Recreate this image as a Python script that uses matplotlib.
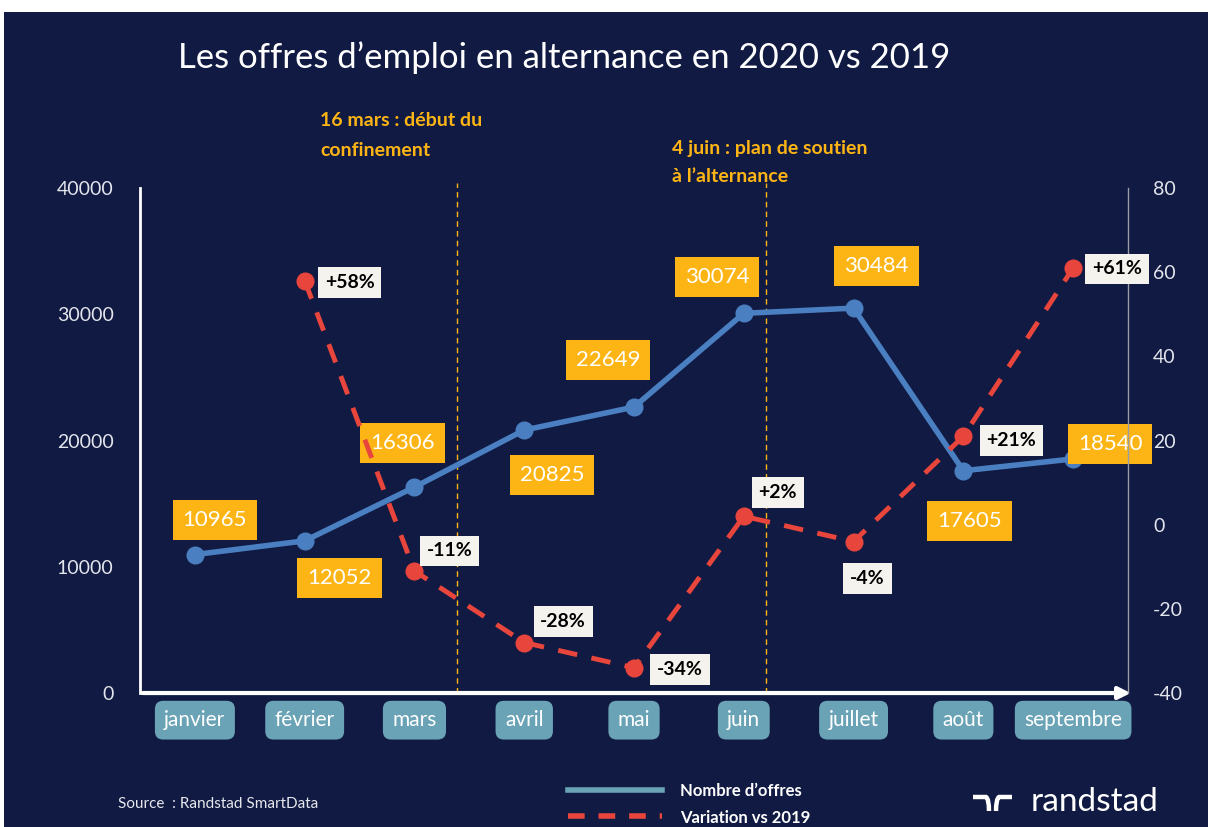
import numpy as np
import matplotlib.pyplot as plt
from matplotlib.patches import FancyArrowPatch, PathPatch
from matplotlib.path import Path

# data
mois = ['janvier', 'février', 'mars', 'avril', 'mai', 'juin', 'juillet', 'août', 'septembre']
offres = [10965, 12052, 16306, 20825, 22649, 30074, 30484, 17605, 18540]
variation = [None, 58, -11, -28, -34, 2, -4, 21, 61]
var_labels = ['', '+58%', '-11%', '-28%', '-34%', '+2%', '-4%', '+21%', '+61%']
events_x = [2.39, 5.2]
events_txt = ['16 mars : début du\nconfinement', '4 juin : plan de soutien\nà l\u2019alternance']

# label offsets in pixels
off_offres = [(20, 35), (35, -37), (-12, 44), (28, -45), (-26, 47), (-27, 36), (23, 42), (6, -50), (37, 15)]
off_var = [None, (45, -2), (35, 20), (39, 21), (46, -2), (34, 24), (14, -37), (48, -4), (44, -1)]

BG = '#111a42'
ORANGE = '#fdb515'
BLUE = '#4a7fc1'
RED = '#e8453c'
TEAL = '#6aa3b6'

plt.rcParams['font.family'] = ['Lato', 'DejaVu Sans']
plt.rcParams['axes.unicode_minus'] = False

fig = plt.figure(figsize=(12.08, 8.27), dpi=100, facecolor='white')
fig.patches.append(plt.Rectangle((0.003, 0), 0.997, 0.985, transform=fig.transFigure,
                                 facecolor=BG, edgecolor='none', zorder=-10))

ax = fig.add_axes([0.1159, 0.162, 0.8179, 0.6107])
ax.set_facecolor('none')
ax2 = ax.twinx()

x = np.arange(len(mois))
ax.set_xlim(-0.5, 8.5)
ax.set_ylim(0, 40000)
ax.set_yticks([0, 10000, 20000, 30000, 40000])
ax2.set_ylim(-40, 80)
ax2.set_yticks([-40, -20, 0, 20, 40, 60, 80])

for a in (ax, ax2):
    for s in a.spines.values():
        s.set_visible(False)
    a.tick_params(length=0, labelsize=14, colors='#e3e5ec')
ax.tick_params(axis='y', pad=19)
ax.set_xticks([])
ax.spines['left'].set_visible(True)
ax.spines['left'].set_color('white')
ax.spines['left'].set_linewidth(2)
ax2.spines['right'].set_visible(True)
ax2.spines['right'].set_color('#9a9ca8')
ax2.spines['right'].set_linewidth(1)
ax2.tick_params(axis='y', pad=18)

# x axis with arrow
arr = FancyArrowPatch((-0.5, 0), (8.55, 0), transform=ax.transData, arrowstyle='-|>',
                      mutation_scale=18, color='white', lw=3, clip_on=False, zorder=5)
ax.add_patch(arr)

# event lines
for ex in events_x:
    ax.axvline(ex, ymin=0, ymax=1.01, color=ORANGE, lw=1, ls=(0, (4, 3)), clip_on=False)
ax.text(events_x[0] - 1.25, 46000, events_txt[0], color=ORANGE, fontsize=14,
        fontweight='bold', va='top', ha='left', linespacing=1.9)
ax.text(events_x[1] - 0.85, 43800, events_txt[1], color=ORANGE, fontsize=14,
        fontweight='bold', va='top', ha='left', linespacing=1.8)

# series
ax.plot(x, offres, color=BLUE, lw=4, marker='o', ms=12, zorder=4)
vx = [i for i, v in enumerate(variation) if v is not None]
vy = [v for v in variation if v is not None]
ax2.plot(vx, vy, color=RED, lw=3.5, ls=(0, (4, 3)), marker='o', ms=12, zorder=4)

for i, v in enumerate(offres):
    ax.annotate(str(v), (i, v), xytext=off_offres[i], textcoords='offset pixels',
                ha='center', va='center', color='white', fontsize=16,
                bbox=dict(boxstyle='square,pad=0.45', fc=ORANGE, ec='none'), zorder=6)
for i in vx:
    ax2.annotate(var_labels[i], (i, variation[i]), xytext=off_var[i], textcoords='offset pixels',
                 ha='center', va='center', color='black', fontsize=14, fontweight='bold',
                 bbox=dict(boxstyle='square,pad=0.35', fc='#f5f3ee', ec='none'), zorder=6)

# month boxes
for i, m in enumerate(mois):
    ax.text(i, -2150, m, ha='center', va='center', color='white', fontsize=15,
            bbox=dict(boxstyle='round,pad=0.45,rounding_size=0.4', fc=TEAL, ec='none'))

# title and footer
fig.text(0.147, 0.93, 'Les offres d\u2019emploi en alternance en 2020 vs 2019', color='white',
         fontsize=25, ha='left', va='center')
fig.text(0.098, 0.028, 'Source  : Randstad SmartData', color='#e6e8ee', fontsize=11,
         ha='left', va='center')
fig.lines.append(plt.Line2D([0.47, 0.548], [0.045, 0.045], transform=fig.transFigure,
                            color=TEAL, lw=4))
fig.lines.append(plt.Line2D([0.47, 0.548], [0.013, 0.013], transform=fig.transFigure,
                            color=RED, lw=4, ls=(0, (3, 2.5))))
fig.text(0.563, 0.043, 'Nombre d\u2019offres', color='white', fontsize=12,
         fontweight='bold', ha='left', va='center')
fig.text(0.563, 0.011, 'Variation vs 2019', color='white', fontsize=12,
         fontweight='bold', ha='left', va='center')

# randstad mark drawn in pixels
def px(xp, yp):
    return (xp / 1208, 1 - yp / 827)
left = Path([px(973, 797), px(986, 797), px(989, 799), px(989, 811)],
            [Path.MOVETO, Path.LINETO, Path.CURVE3, Path.CURVE3][:2] + [Path.CURVE3, Path.CURVE3])
right = Path([px(996, 811), px(996, 799), px(999, 797), px(1012, 797)],
             [Path.MOVETO, Path.CURVE3, Path.CURVE3, Path.LINETO])
for p in (left, right):
    fig.patches.append(PathPatch(p, transform=fig.transFigure, fc='none', ec='white', lw=3.2))
fig.text(0.853, 0.03, 'randstad', color='white', fontsize=24, ha='left', va='center')

fig.savefig('out.png', dpi=100, facecolor='white')
